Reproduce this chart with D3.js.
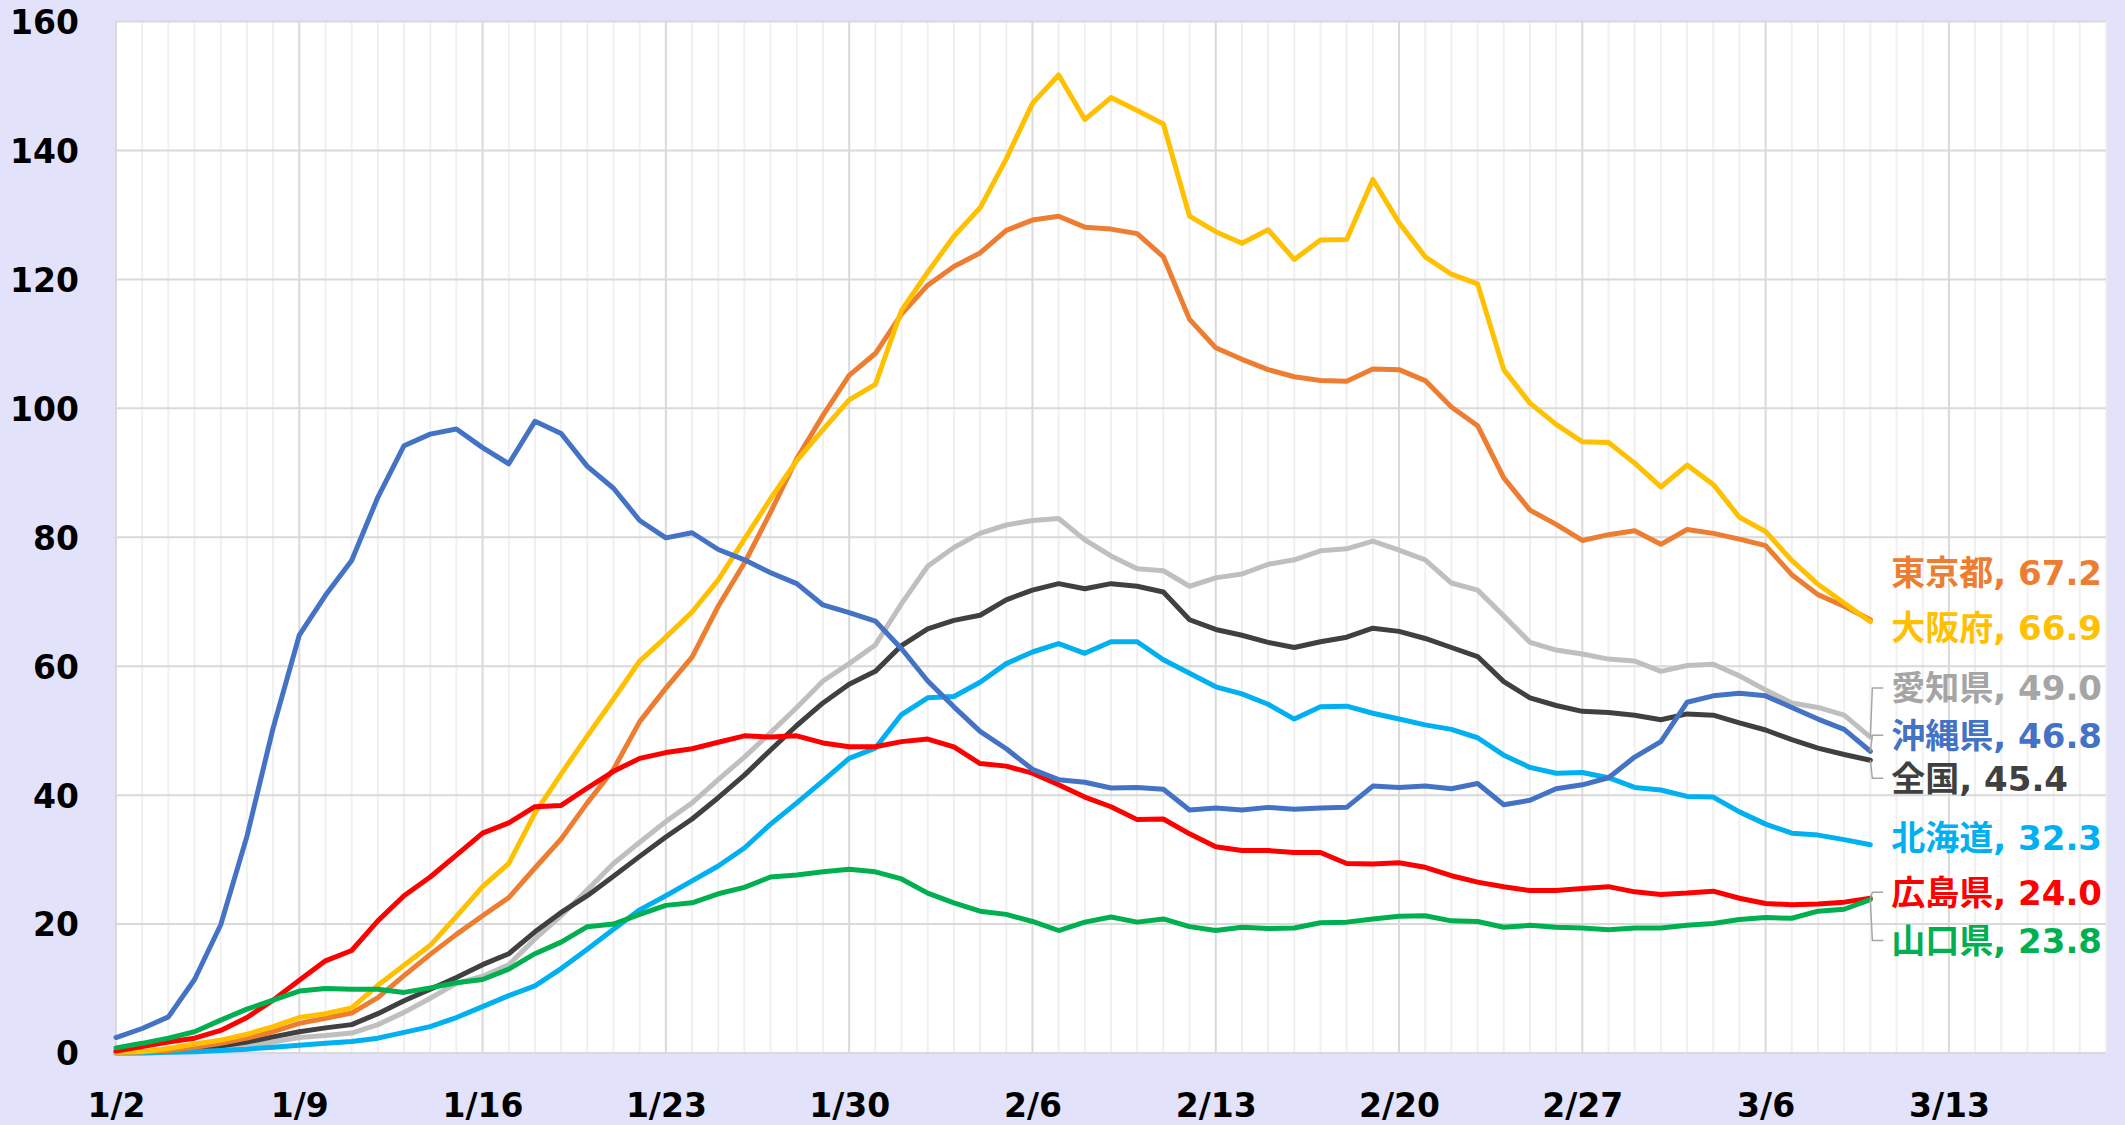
<!DOCTYPE html>
<html>
<head>
<meta charset="utf-8">
<script src="https://cdn.jsdelivr.net/npm/d3@7"></script>
<style>
  body { margin: 0; background: #e2e2fa; }
  svg { display: block; }
  .tick text { font-family: "DejaVu Sans", "Noto Sans CJK JP", sans-serif; font-weight: bold; }
</style>
</head>
<body>
<svg id="chart"></svg>
<script>
// day 0 = 1/2, one value per day up to 3/10
const startDate = new Date(2022, 0, 2);
const endDate = new Date(2022, 2, 19);
const tickLabels = ["1/2", "1/9", "1/16", "1/23", "1/30", "2/6", "2/13", "2/20", "2/27", "3/6", "3/13"];
const yTicks = [0, 20, 40, 60, 80, 100, 120, 140, 160];

const names = ["愛知県", "全国", "北海道", "東京都", "大阪府", "広島県", "山口県", "沖縄県"];
const lineColors = ["#bfbfbf", "#404040", "#00b0f0", "#ed7d31", "#ffc000", "#ff0000", "#00b050", "#4472c4"];
const textColors = ["#a5a5a5", "#404040", "#00b0f0", "#ed7d31", "#ffc000", "#ff0000", "#00b050", "#4472c4"];

const aichi = [0,0,0.1,0.3,0.6,1.1,1.7,2.4,2.7,3.1,4.4,6.3,8.5,10.8,11.9,13.7,17.7,21.3,25.3,29.4,
  32.7,35.9,38.8,42.4,45.9,49.7,53.6,57.7,60.4,63.3,69.7,75.5,78.4,80.6,81.9,82.6,82.9,79.6,77.1,75.1,
  74.8,72.4,73.7,74.3,75.8,76.5,77.9,78.2,79.4,78.0,76.5,72.9,71.8,67.8,63.7,62.5,61.9,61.1,60.8,59.2,
  60.1,60.3,58.5,56.3,54.3,53.6,52.4,49.0];
const zenkoku = [0.1,0.2,0.4,0.7,1.1,1.7,2.5,3.3,3.9,4.4,6.1,8.1,9.9,11.7,13.7,15.4,18.8,21.8,24.4,27.4,
  30.5,33.5,36.3,39.6,43.1,47.0,50.8,54.3,57.2,59.2,63.2,65.8,67.1,67.9,70.3,71.8,72.8,72.0,72.8,72.4,
  71.5,67.2,65.7,64.8,63.7,62.9,63.8,64.5,65.9,65.4,64.3,62.9,61.5,57.6,55.1,53.9,53.0,52.8,52.4,51.7,
  52.6,52.4,51.2,50.1,48.6,47.3,46.3,45.4];
const hokkaido = [0,0,0.1,0.2,0.4,0.6,0.9,1.2,1.5,1.8,2.3,3.2,4.1,5.5,7.2,8.9,10.4,13.1,16.1,19.2,
  22.2,24.4,26.7,29.0,31.8,35.5,38.8,42.2,45.7,47.3,52.5,55.1,55.3,57.5,60.4,62.2,63.5,62.0,63.8,63.8,
  61.0,58.9,56.8,55.7,54.1,51.8,53.7,53.8,52.7,51.8,50.9,50.2,48.9,46.2,44.3,43.4,43.5,42.7,41.2,40.8,
  39.8,39.7,37.4,35.5,34.1,33.8,33.1,32.3];
const tokyo = [0.1,0.2,0.4,0.9,1.5,2.3,3.3,4.6,5.4,6.2,8.6,12.0,15.3,18.4,21.3,24.1,28.7,33.2,38.8,44.0,
  51.4,56.6,61.4,69.3,76.0,83.9,92.2,98.9,105.1,108.5,114.6,119.1,122.0,124.1,127.6,129.2,129.8,128.1,127.8,127.1,
  123.5,113.8,109.4,107.6,106.0,104.9,104.3,104.2,106.1,106.0,104.3,100.2,97.3,89.2,84.2,82.0,79.5,80.4,81.0,78.9,
  81.2,80.6,79.7,78.7,74.2,71.1,69.3,67.2];
const osaka = [0.1,0.2,0.7,1.4,2.0,2.9,4.1,5.5,6.1,7.0,10.5,13.6,16.7,21.2,25.8,29.4,37.2,43.3,49.2,54.9,
  60.8,64.5,68.4,73.4,79.7,86.0,91.9,96.7,101.3,103.7,115.2,121.1,126.7,131.1,138.7,147.3,151.7,144.8,148.2,146.2,
  144.1,129.8,127.4,125.6,127.7,123.1,126.1,126.2,135.5,128.8,123.5,120.8,119.3,106.0,100.8,97.5,94.8,94.7,91.5,87.8,
  91.2,88.2,83.1,80.9,76.4,72.7,69.8,66.9];
const hiroshima = [0.3,1.0,1.7,2.3,3.5,5.5,8.2,11.3,14.3,15.9,20.5,24.4,27.3,30.7,34.1,35.7,38.2,38.4,41.1,43.7,
  45.7,46.6,47.2,48.2,49.2,49.0,49.2,48.1,47.5,47.5,48.3,48.7,47.5,44.9,44.5,43.4,41.6,39.7,38.2,36.2,
  36.3,34.0,32.0,31.4,31.4,31.1,31.1,29.4,29.3,29.5,28.8,27.5,26.5,25.8,25.2,25.2,25.5,25.8,25.0,24.6,
  24.8,25.1,24.0,23.2,23.0,23.1,23.4,24.0];
const yamaguchi = [0.8,1.5,2.3,3.3,5.1,6.8,8.2,9.6,10.0,9.9,9.9,9.4,10.1,10.9,11.4,13.0,15.4,17.2,19.6,20.0,
  21.5,22.9,23.3,24.7,25.7,27.3,27.6,28.1,28.5,28.1,27.0,24.8,23.3,22.0,21.5,20.4,19.0,20.3,21.1,20.3,
  20.8,19.6,19.0,19.5,19.3,19.4,20.2,20.3,20.8,21.2,21.3,20.5,20.4,19.5,19.8,19.5,19.4,19.1,19.4,19.4,
  19.8,20.1,20.7,21.0,20.9,22.0,22.3,23.8];
const okinawa = [2.4,3.8,5.6,11.4,19.9,33.6,50.4,64.8,71.0,76.4,86.2,94.2,96.0,96.8,93.9,91.4,98.0,96.1,91.0,87.6,
  82.6,79.9,80.7,78.1,76.5,74.5,72.8,69.5,68.3,67.0,62.7,57.7,53.7,49.9,47.2,44.0,42.4,42.0,41.1,41.2,
  40.9,37.7,38.0,37.7,38.1,37.8,38.0,38.1,41.4,41.2,41.4,41.0,41.8,38.5,39.2,41.0,41.6,42.7,45.9,48.3,
  54.4,55.4,55.8,55.4,53.6,51.8,50.2,46.8];

const seriesValues = [aichi, zenkoku, hokkaido, tokyo, osaka, hiroshima, yamaguchi, okinawa];

// label placement next to the line ends (pixel nudge, leader line or not)
const labelNudge = [-49, 18, -7, -47, 6, -6, 41, -16];
const hasLeader = [true, true, false, false, false, true, true, true];

const width = 2125, height = 1125;
const margin = { top: 21.5, right: 19, bottom: 72, left: 116 };

const svg = d3.select("#chart")
    .attr("width", width)
    .attr("height", height);

svg.append("rect")
    .attr("width", width)
    .attr("height", height)
    .attr("fill", "#e2e2fa");

const x = d3.scaleTime()
    .domain([startDate, endDate])
    .range([margin.left, width - margin.right]);

const y = d3.scaleLinear()
    .domain([0, 160])
    .range([height - margin.bottom, margin.top]);

const dayDate = i => d3.timeDay.offset(startDate, i);

svg.append("rect")
    .attr("x", x.range()[0])
    .attr("y", y(160))
    .attr("width", x.range()[1] - x.range()[0])
    .attr("height", y(0) - y(160))
    .attr("fill", "#ffffff");

// daily grid, weekly grid a bit darker
const allDays = d3.timeDay.range(startDate, d3.timeDay.offset(endDate, 1));
svg.append("g")
    .selectAll("line")
    .data(allDays)
    .join("line")
    .attr("x1", d => x(d))
    .attr("x2", d => x(d))
    .attr("y1", y(0))
    .attr("y2", y(160))
    .attr("stroke", (d, i) => i % 7 == 0 ? "#d9d9d9" : "#f0f0f0")
    .attr("stroke-width", 2);

svg.append("g")
    .selectAll("line")
    .data(yTicks)
    .join("line")
    .attr("x1", x.range()[0])
    .attr("x2", x.range()[1])
    .attr("y1", d => y(d))
    .attr("y2", d => y(d))
    .attr("stroke", "#d9d9d9")
    .attr("stroke-width", 2);

const yAxis = svg.append("g")
    .attr("transform", `translate(${margin.left - 37},0)`)
    .call(d3.axisLeft(y).tickValues(yTicks).tickSize(0).tickPadding(0));
yAxis.select(".domain").remove();
yAxis.selectAll("text")
    .attr("font-size", 33)
    .attr("fill", "#000")
    .attr("dy", "0.36em");

const tickDates = tickLabels.map((t, i) => dayDate(i * 7));
const xAxis = svg.append("g")
    .attr("transform", `translate(0,${y(0)})`)
    .call(d3.axisBottom(x).tickValues(tickDates).tickSize(0).tickPadding(0)
        .tickFormat((d, i) => tickLabels[i]));
xAxis.select(".domain").remove();
xAxis.selectAll("text")
    .attr("font-size", 33)
    .attr("fill", "#000")
    .attr("y", 64)
    .attr("dy", 0);

const line = d3.line()
    .x((d, i) => x(dayDate(i)))
    .y(d => y(d));

svg.append("g")
    .selectAll("path")
    .data(seriesValues)
    .join("path")
    .attr("d", d => line(d))
    .attr("fill", "none")
    .attr("stroke", (d, i) => lineColors[i])
    .attr("stroke-width", 5)
    .attr("stroke-linejoin", "round")
    .attr("stroke-linecap", "round");

// end labels
const fmt = d3.format(".1f");
const labels = svg.append("g");
seriesValues.forEach((vals, i) => {
    const last = vals.length - 1;
    const x0 = x(dayDate(last));
    const y0 = y(vals[last]);
    const ly = y0 + labelNudge[i];

    if (hasLeader[i]) {
        labels.append("path")
            .attr("d", `M${x0},${y0}L${x0 + 2},${ly}L${x0 + 13},${ly}`)
            .attr("fill", "none")
            .attr("stroke", "#a6a6a6")
            .attr("stroke-width", 1.5);
    }

    labels.append("text")
        .attr("x", x0 + 21)
        .attr("y", ly)
        .attr("dy", "0.36em")
        .attr("font-family", "'DejaVu Sans', 'Noto Sans CJK JP', sans-serif")
        .attr("font-weight", "bold")
        .attr("font-size", 34)
        .attr("fill", textColors[i])
        .text(`${names[i]}, ${fmt(vals[last])}`);
});
</script>
</body>
</html>
